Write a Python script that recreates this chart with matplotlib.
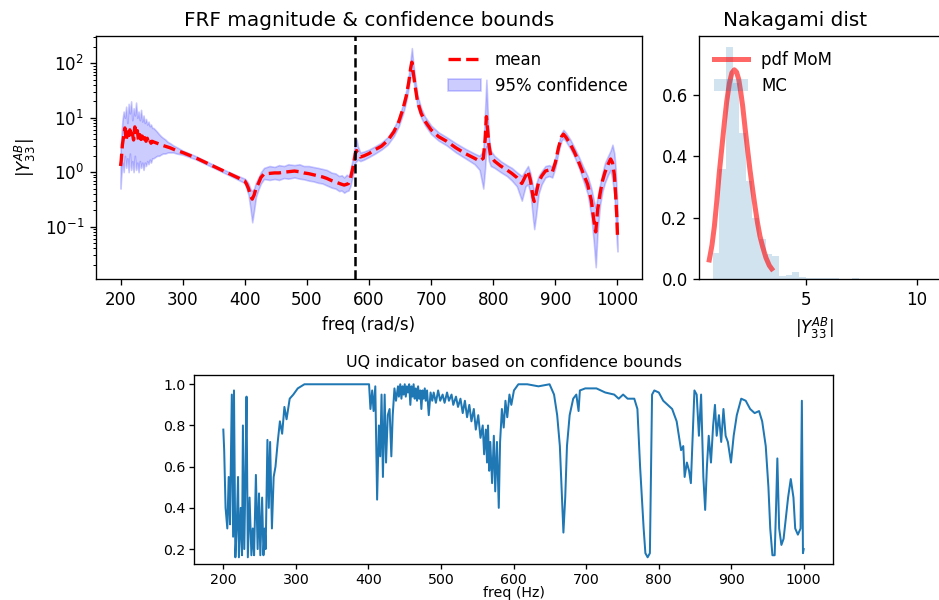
import numpy as np
import matplotlib
matplotlib.use("Agg")
import matplotlib.pyplot as plt

# ---------------- FRF data ----------------
freq_frf = [200, 201, 203, 205, 207, 209, 211, 213, 215, 217, 219, 221, 223, 225, 227, 229, 231, 233, 235, 237,
            239, 241, 243, 245, 247, 249, 251, 253, 256, 259, 262, 265, 268, 272, 276, 280, 285, 290, 300,
            320, 340, 360, 380, 400, 403, 406, 409, 412, 415, 418, 422, 426, 431,
            440, 448, 455, 463, 470, 480, 488, 495, 503, 510, 518, 525, 532, 540, 546, 552, 556, 560, 564, 567,
            570, 572, 574, 576, 578,
            580, 582, 586, 592, 600, 610, 620, 630, 640, 648, 655, 660, 664, 667, 669, 671, 674, 678, 684, 690,
            700, 712, 725, 740, 755, 770, 778, 784, 787, 789, 791, 793, 796, 802, 812, 822, 830, 838, 846, 852,
            856, 860, 864, 866, 869, 873, 878, 884, 890, 895, 900, 905, 910, 913, 917, 924, 931, 938, 945, 952,
            958, 962, 965, 968, 972, 976, 980, 985, 989, 992, 995, 997, 999, 1000]

frf_mean = [1.3, 1.6, 3.2, 4.5, 6.5, 3.8, 5.5, 4.0, 6.0, 4.2, 5.2, 3.9, 6.8, 4.5, 5.8, 3.8, 4.9, 4.0, 4.6, 3.6,
            4.3, 3.7, 4.2, 3.5, 3.9, 3.4, 3.7, 3.6, 3.5, 3.4, 3.3, 3.2, 3.1, 3.0, 2.9, 2.8, 2.65, 2.5, 2.3,
            1.86, 1.45, 1.13, 0.88, 0.69, 0.6, 0.5, 0.38, 0.32, 0.38, 0.5, 0.62, 0.8, 0.93,
            0.95, 0.97, 0.97, 1.0, 1.02, 1.05, 1.02, 0.97, 0.94, 0.9, 0.86, 0.82, 0.77, 0.7, 0.66, 0.62, 0.6, 0.58,
            0.6, 0.62, 0.75, 0.95, 1.2, 1.6, 2.2,
            2.5, 2.2, 1.9, 2.0, 2.2, 2.6, 3.0, 3.8, 5.5, 8.5, 15, 25, 45, 80, 105, 70, 40, 20, 12, 8.7,
            6.0, 4.5, 3.7, 2.8, 2.2, 1.8, 1.6, 1.8, 4.0, 10.5, 6.0, 3.2, 2.0, 1.6, 1.3, 1.1, 0.95, 0.8, 0.62, 0.85,
            1.05, 0.7, 0.35, 0.29, 0.4, 0.65, 0.85, 1.05, 1.1, 1.0, 1.5, 2.8, 4.5, 5.0, 4.4, 3.3, 2.3, 1.5, 0.95, 0.6,
            0.3, 0.13, 0.08, 0.2, 0.4, 0.7, 1.0, 1.4, 1.75, 1.5, 0.9, 0.4, 0.15, 0.07]

frf_upper = [2.5, 4.0, 9, 13, 10, 16, 8, 18, 12, 20, 9, 15, 11, 19, 10, 13, 9, 14, 8.5, 11,
             8, 9.5, 7.5, 8.5, 7, 7.5, 6.5, 6.5, 6, 5.5, 5, 4.6, 4.3, 4.0, 3.6, 3.4, 3.1, 2.9, 2.5,
             2.0, 1.55, 1.2, 0.95, 0.76, 0.7, 0.62, 0.5, 0.45, 0.5, 0.65, 0.8, 1.0, 1.2,
             1.3, 1.25, 1.35, 1.3, 1.4, 1.35, 1.4, 1.3, 1.3, 1.25, 1.2, 1.15, 1.1, 0.98, 0.95, 0.85, 0.88, 0.8,
             0.9, 0.85, 1.05, 1.4, 1.8, 2.6, 3.8,
             4.0, 3.0, 2.3, 2.4, 2.6, 3.0, 3.5, 4.4, 6.5, 10, 18, 32, 60, 120, 190, 110, 55, 26, 15, 10.5,
             7.2, 5.4, 4.4, 3.4, 2.7, 2.2, 2.0, 2.5, 15, 50, 14, 4.5, 2.5, 2.0, 1.6, 1.35, 1.2, 1.0, 0.85, 1.1,
             1.3, 0.95, 0.55, 0.45, 0.6, 0.85, 1.05, 1.3, 1.35, 1.25, 1.9, 3.4, 5.3, 6.0, 5.3, 4.0, 2.8, 1.9, 1.25, 0.85,
             0.5, 0.3, 0.22, 0.35, 0.6, 1.0, 1.5, 2.0, 2.5, 3.2, 2.2, 1.2, 0.4, 0.2]

frf_lower = [0.5, 0.8, 1.5, 1.0, 2.0, 1.2, 1.8, 1.0, 2.2, 1.1, 1.6, 1.0, 2.0, 1.1, 1.5, 1.0, 1.6, 1.2, 1.5, 1.1,
             1.5, 1.3, 1.6, 1.4, 1.7, 1.5, 1.8, 1.8, 1.9, 2.0, 2.0, 2.1, 2.2, 2.2, 2.3, 2.3, 2.3, 2.2, 2.1,
             1.74, 1.36, 1.06, 0.82, 0.63, 0.5, 0.38, 0.22, 0.12, 0.2, 0.35, 0.48, 0.62, 0.75,
             0.72, 0.75, 0.72, 0.78, 0.76, 0.8, 0.76, 0.74, 0.7, 0.68, 0.64, 0.62, 0.57, 0.52, 0.5, 0.45, 0.46, 0.42,
             0.45, 0.46, 0.55, 0.7, 0.85, 1.1, 1.5,
             1.6, 1.7, 1.6, 1.7, 1.9, 2.2, 2.6, 3.2, 4.6, 7.0, 12, 20, 36, 60, 75, 55, 32, 16, 10, 7.3,
             5.0, 3.8, 3.1, 2.3, 1.8, 1.4, 1.1, 0.5, 1.2, 3.0, 2.5, 1.6, 1.3, 1.2, 1.0, 0.85, 0.7, 0.55, 0.3, 0.55,
             0.6, 0.4, 0.14, 0.09, 0.16, 0.4, 0.6, 0.8, 0.85, 0.8, 1.2, 2.3, 3.8, 4.2, 3.7, 2.7, 1.9, 1.2, 0.7, 0.4,
             0.15, 0.05, 0.018, 0.08, 0.25, 0.45, 0.65, 0.9, 1.1, 0.7, 0.4, 0.15, 0.05, 0.035]

freq_selected = 578

# ---------------- Nakagami data ----------------
hist_edges = [0.78, 1.08, 1.38, 1.68, 1.98, 2.28, 2.58, 2.88, 3.18, 3.48, 3.78, 4.08, 4.38, 4.68, 4.98,
              5.28, 5.58, 5.88, 6.18, 6.48, 6.78, 7.08, 7.38, 7.68, 7.98, 8.28, 8.58, 8.88, 9.18, 9.48,
              9.78, 10.08, 10.38, 10.68, 10.98, 11.28, 11.58, 11.88, 12.18, 12.48, 12.78]
hist_density = [0.085, 0.36, 0.755, 0.64, 0.475, 0.32, 0.2, 0.13, 0.083, 0.077, 0.012, 0.015, 0.023, 0.009,
                0.004, 0.005, 0.004, 0.003, 0.004, 0.002, 0.002, 0.003, 0.002, 0.001, 0.002, 0.001, 0.001,
                0.002, 0.001, 0.001, 0.001, 0.0, 0.001, 0.0, 0.001, 0.0, 0.0, 0.001, 0.0, 0.001]

pdf_x = [0.63, 0.75, 0.86, 0.97, 1.08, 1.2, 1.31, 1.42, 1.54, 1.65, 1.76, 1.86, 1.96, 2.05, 2.14, 2.25,
         2.36, 2.47, 2.59, 2.7, 2.81, 2.92, 3.04, 3.19, 3.34, 3.45]
pdf_y = [0.063, 0.11, 0.172, 0.255, 0.346, 0.43, 0.509, 0.58, 0.639, 0.672, 0.682, 0.675, 0.651, 0.61,
         0.563, 0.49, 0.422, 0.355, 0.291, 0.235, 0.183, 0.14, 0.106, 0.07, 0.045, 0.034]

# ---------------- UQ indicator data ----------------
uq_freq = [200, 201.2, 203.1, 205.5, 207.4, 209.2, 211.7, 213.5, 214.7, 216.6, 218.4, 220.3, 221.5, 224.0,
           225.8, 227.0, 228.9, 230.7, 232.0, 233.8, 236.2, 238.7, 240.6, 242.4, 244.9, 247.3, 249.2, 251.0,
           253.5, 255.3, 257.1, 258.4, 260.8, 262.7, 264.5, 267.0, 269.4, 271.9, 275.0, 278.0, 281.1, 284.2,
           287.2, 291.5, 296.5, 302.6, 311.8, 330, 360, 390, 400.9, 402.8, 405.2, 407.1, 409.5, 412.0, 414.4,
           416.3, 418.1, 420.0, 422.4, 424.3, 426.7, 429.2, 431.6, 433.5,
           435.9, 438.0, 440.8, 442.0, 443.9, 445.5, 447.0, 448.5, 450.1, 451.5, 453.1, 454.5, 456.2, 457.8,
           459.3, 460.8, 462.3, 463.8, 465.4, 467.0, 468.5, 470.0, 471.6, 473.0, 474.6, 476.0, 477.7, 479.0,
           480.8, 483.2, 485.7, 488.0, 490.0, 493.0, 496.1, 499.0, 502.3, 505.0, 508.4, 511.0, 514.6, 517.0,
           520.7, 523.5, 526.9, 530.0, 533.0, 536.0, 539.1, 542.0, 545.3, 548.0, 551.4, 554.5, 557.6, 559.5,
           561.9, 563.5, 564.9, 566.5, 568.0, 570.5, 572.9, 574.8, 577.2, 579.7, 581.5, 584.0, 586.5, 588.9,
           591.4, 594.4, 597.0, 600.6,
           606.7, 619.0, 634.4,
           649.7, 655.9, 660.2, 663.9, 666.3, 668.8, 671.3, 673.7, 677.4, 682.3, 686.6, 689.7, 691.5, 698.9,
           714.3, 726.5, 738.8, 745.0, 751.1, 757.3, 766.5, 770.8, 774.5, 776.9, 779.4, 781.8, 784.9, 788.0,
           791.0, 794.1, 800.3, 806.4, 812.6, 818.7, 824.9, 827.9, 831.0, 834.0, 835.9, 839.0, 842.0, 844.5,
           847.0, 849.4, 852.5, 855.6, 858.6, 861.7, 864.2, 866.6, 869.1, 872.2, 875.2, 877.7, 880.1, 883.2,
           886.3, 889.4, 892.4, 895.5, 899.8, 903.5, 907.8, 913.9, 920.1, 926.2, 932.4, 938.5, 942.8, 947.7,
           951.4, 953.9, 956.9, 960.0, 961.9, 963.7, 966.2, 969.3, 972.3, 975.4, 978.5, 982.2, 985.9, 988.3,
           992.0, 995.7, 997.5, 999.0, 1000]
uq_value = [0.78, 0.68, 0.40, 0.30, 0.55, 0.32, 0.95, 0.26, 0.97, 0.16, 0.30, 0.55, 0.16, 0.40,
            0.17, 0.80, 0.20, 0.60, 0.94, 0.16, 0.45, 0.17, 0.30, 0.17, 0.56, 0.20, 0.47, 0.17,
            0.45, 0.17, 0.30, 0.20, 0.73, 0.40, 0.72, 0.30, 0.55, 0.60, 0.72, 0.82, 0.76, 0.89,
            0.83, 0.93, 0.95, 0.98, 1.0, 1.0, 1.0, 1.0, 1.0, 0.88, 0.97, 0.87, 0.99, 0.44, 0.80,
            0.65, 0.95, 0.55, 0.95, 0.62, 0.85, 0.88, 0.65, 0.85,
            0.98, 0.92, 0.99, 0.94, 1.0, 0.93, 0.99, 0.95, 1.0, 0.94, 0.99, 0.96, 1.0, 0.90,
            0.99, 0.94, 1.0, 0.93, 0.98, 0.92, 0.99, 0.93, 0.97, 0.88, 0.97, 0.93, 0.98, 0.92,
            0.97, 0.85, 0.96, 0.92, 0.96, 0.91, 0.97, 0.92, 0.95, 0.91, 0.96, 0.92, 0.95, 0.90,
            0.94, 0.89, 0.93, 0.86, 0.92, 0.84, 0.90, 0.82, 0.88, 0.78, 0.85, 0.74, 0.80, 0.66,
            0.78, 0.62, 0.80, 0.58, 0.72, 0.52, 0.75, 0.48, 0.72, 0.40, 0.72, 0.88, 0.79, 0.92,
            0.84, 0.95, 0.90, 0.97,
            1.0, 1.0, 0.99,
            1.0, 0.95, 0.85, 0.70, 0.50, 0.28, 0.45, 0.70, 0.85, 0.93, 0.95, 0.87, 0.97, 0.98,
            0.98, 0.96, 0.95, 0.93, 0.95, 0.93, 0.93, 0.88, 0.60, 0.45, 0.30, 0.18, 0.16, 0.18,
            0.95, 0.97, 0.96, 0.92, 0.90, 0.88, 0.82, 0.75, 0.68, 0.70, 0.55, 0.62, 0.58, 0.52,
            0.75, 0.97, 0.95, 0.75, 0.95, 0.55, 0.39, 0.60, 0.75, 0.62, 0.80, 0.90, 0.75, 0.85,
            0.72, 0.88, 0.75, 0.72, 0.62, 0.75, 0.85, 0.93, 0.92, 0.88, 0.86, 0.87, 0.82, 0.70,
            0.50, 0.30, 0.17, 0.17, 0.40, 0.64, 0.30, 0.22, 0.25, 0.35, 0.45, 0.54, 0.45, 0.30,
            0.27, 0.30, 0.92, 0.18, 0.20]

# ---------------- Figure ----------------
W, H, DPI = 939, 600, 120
fig = plt.figure(figsize=(W / DPI, H / DPI), dpi=DPI)

def px_axes(l, t, r, b):
    return [l / W, 1 - b / H, (r - l) / W, (b - t) / H]

# FRF
ax1 = fig.add_axes(px_axes(95.7, 35.7, 642.3, 279.3))
ax1.fill_between(freq_frf, frf_lower, frf_upper, color='b', alpha=0.2, label='95% confidence')
ax1.plot(freq_frf, frf_mean, 'r--', lw=2, label='mean')
ax1.axvline(freq_selected, color='k', ls='--', lw=1.5)
ax1.set_yscale('log')
ax1.set_ylim(0.0108, 321)
ax1.set_xlim(160, 1040)
ax1.set_xlabel('freq (rad/s)')
ax1.set_ylabel(r'$|Y_{33}^{AB}|$')
ax1.set_title('FRF magnitude & confidence bounds')
h, l = ax1.get_legend_handles_labels()
ax1.legend([h[1], h[0]], [l[1], l[0]], loc='upper right', frameon=False)

# Nakagami (axes extends past the right edge of the figure)
ax2 = fig.add_axes(px_axes(699.3, 35.7, 1001, 279.3))
ax2.hist(hist_edges[:-1], bins=hist_edges, weights=hist_density, color='C0', alpha=0.2, label='MC')
ax2.plot(pdf_x, pdf_y, 'r-', lw=3, alpha=0.6, label='pdf MoM')
ax2.set_xlim(0.18, 13.8)
ax2.set_ylim(0, 0.793)
ax2.set_xticks([5, 10])
ax2.set_yticks([0.0, 0.2, 0.4, 0.6])
ax2.set_xlabel(r'$|Y_{33}^{AB}|$')
ax2.xaxis.label.set_x(0.383)
ax2.set_title('Nakagami dist', x=0.317)
h, l = ax2.get_legend_handles_labels()
ax2.legend([h[1], h[0]], [l[1], l[0]], loc='upper left', frameon=False)

# UQ indicator
ax3 = fig.add_axes(px_axes(194.3, 375, 832.7, 564.3))
ax3.plot(uq_freq, uq_value, color='C0', lw=1.2)
ax3.set_xlim(160, 1040)
ax3.set_ylim(0.126, 1.045)
ax3.tick_params(labelsize=8.5, length=2.8, pad=2.5)
ax3.set_xlabel('freq (Hz)', fontsize=8.5, labelpad=-0.5)
ax3.set_title('UQ indicator based on confidence bounds', fontsize=9.6, pad=4.8)

fig.savefig('out.png', dpi=DPI)
